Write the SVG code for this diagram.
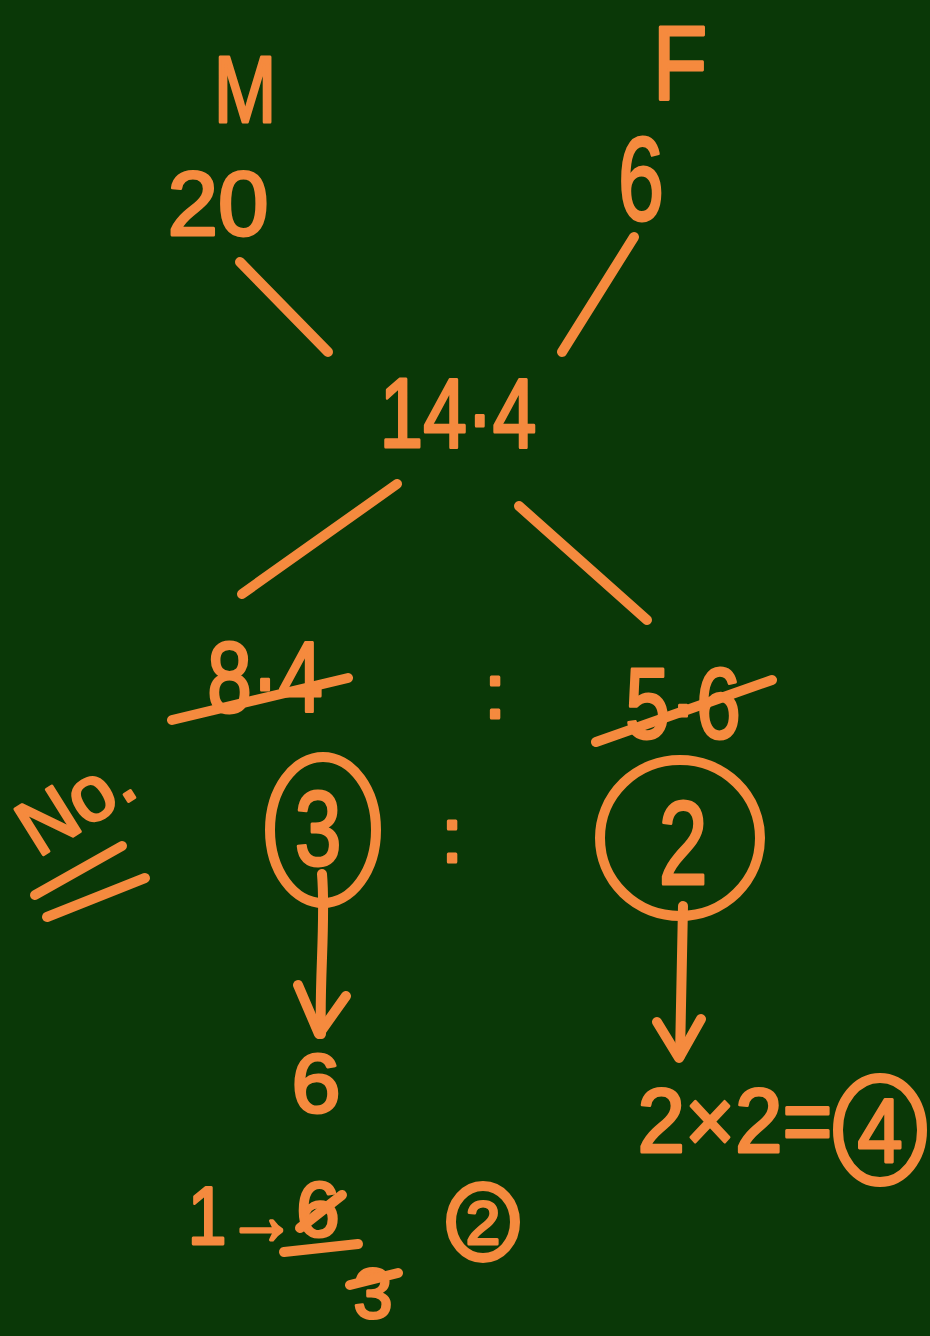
<svg xmlns="http://www.w3.org/2000/svg" width="930" height="1336" viewBox="0 0 930 1336">
<style>
.t{font-family:"Liberation Sans","DejaVu Sans",sans-serif;fill:#f58a3e;stroke:#f58a3e;stroke-width:3;stroke-linejoin:round;text-anchor:middle}
.s{fill:none;stroke:#f58a3e;stroke-width:10;stroke-linecap:round;stroke-linejoin:round}
</style>
<rect width="930" height="1336" fill="#0a3807"/>
<g id="connectors">
<path class="s" d="M240,262 L328,352"/>
<path class="s" d="M634,237 L562,352"/>
<path class="s" d="M397,484 L242,594"/>
<path class="s" d="M519,506 L647,620"/>
<path class="s" d="M322,874 C326,920 319,980 321,1034"/>
<path class="s" d="M298,985 L319,1034 L346,996"/>
<path class="s" d="M683,906 L680,1056"/>
<path class="s" d="M657,1022 L679,1058 L701,1019"/>
</g>
<g id="M"><text class="t" font-size="94" transform="translate(245,122) scale(0.8,1)">M</text></g>
<g id="F"><text class="t" font-size="105" transform="translate(680,100) scale(0.85,1)">F</text></g>
<g id="m20"><text class="t" font-size="91" transform="translate(218,235)">20</text></g>
<g id="f6"><text class="t" font-size="118" transform="translate(641,220) scale(0.7,1)">6</text></g>
<g id="mean"><text class="t" font-size="98" transform="translate(458,447) scale(0.8,1)">14·4</text></g>
<g id="left-diff">
<text class="t" font-size="100" transform="translate(265,712) scale(0.8,1)">8·4</text>
<path class="s" d="M172,720 L348,678"/>
</g>
<g id="colon1"><text class="t" font-size="78" transform="translate(495,718)">:</text></g>
<g id="right-diff">
<text class="t" font-size="100" transform="translate(683,738) scale(0.8,1)">5·6</text>
<path class="s" d="M596,742 L772,680"/>
</g>
<g id="no">
<text class="t" font-size="78" style="text-anchor:start" transform="translate(38,858) rotate(-32)">No.</text>
<path class="s" d="M35,895 L122,846"/>
<path class="s" d="M47,917 L145,878"/>
</g>
<g id="ratio3">
<ellipse class="s" cx="323" cy="830" rx="53" ry="73"/>
<text class="t" font-size="105" transform="translate(318,865) scale(0.8,1)">3</text>
</g>
<g id="colon2"><text class="t" font-size="78" transform="translate(452,862)">:</text></g>
<g id="ratio2">
<ellipse class="s" cx="680" cy="838" rx="80" ry="78"/>
<text class="t" font-size="118" transform="translate(683,884) scale(0.75,1)">2</text>
</g>
<g id="six"><text class="t" font-size="84" transform="translate(316,1112) scale(1.05,1)">6</text></g>
<g id="product">
<text class="t" font-size="90" transform="translate(735,1152) scale(0.95,1)">2×2=</text>
<ellipse class="s" cx="880" cy="1130" rx="42" ry="52"/>
<text class="t" font-size="90" transform="translate(880,1162) scale(0.9,1)">4</text>
</g>
<g id="fraction">
<text class="t" font-size="82" transform="translate(242,1244) scale(0.85,1)">1→</text>
<text class="t" font-size="78" transform="translate(318,1236)">6</text>
<path class="s" d="M300,1228 L342,1195"/>
<path class="s" d="M284,1252 L358,1244"/>
<text class="t" font-size="70" transform="translate(373,1318)">3</text>
<path class="s" d="M350,1285 L398,1273"/>
<ellipse class="s" cx="483" cy="1222" rx="32" ry="36"/>
<text class="t" font-size="62" transform="translate(483,1244)">2</text>
</g>
</svg>
